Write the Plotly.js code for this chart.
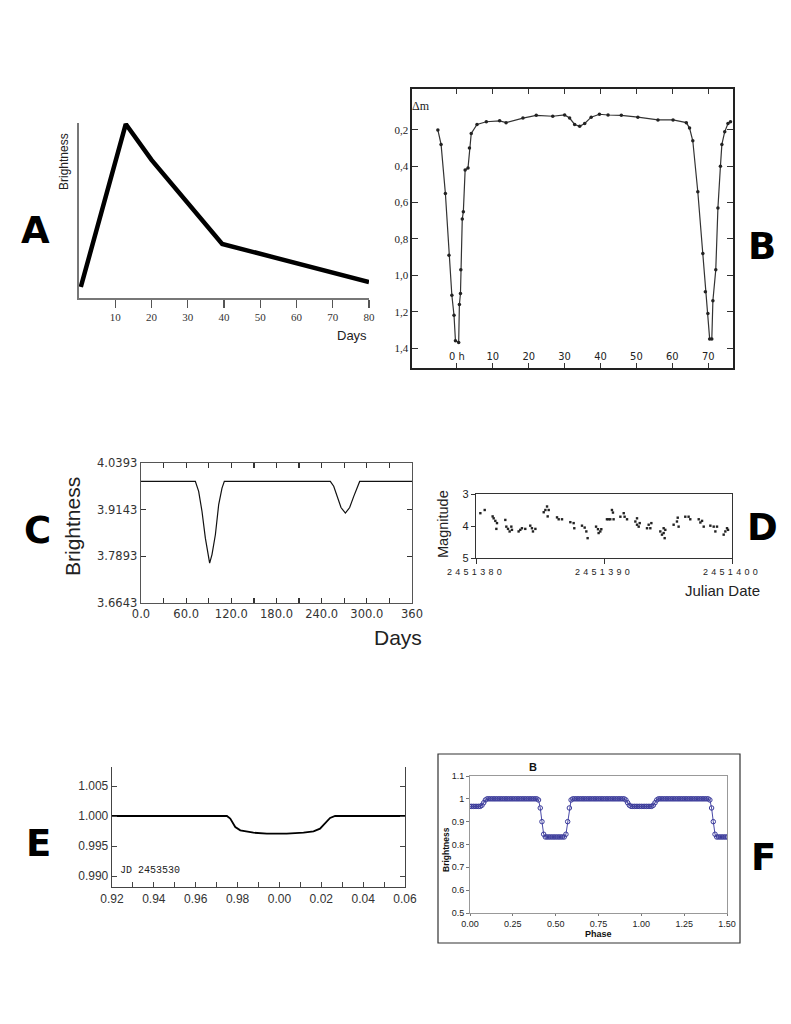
<!DOCTYPE html>
<html><head><meta charset="utf-8">
<script src="https://cdn.plot.ly/plotly-3.0.1.min.js"></script>
<style>html,body{margin:0;padding:0;background:#fff}</style>
</head><body><div id="chart" style="width:791px;height:1024px"></div>
<script>
// ---------- Panel A ----------
const daysA = [0.5, 12.9, 20, 39.5, 80];
const brightA = [0.63, 9.94, 7.89, 3.09, 0.91];
const ticksA = [10, 20, 30, 40, 50, 60, 70, 80];

// ---------- Panel B ----------
const hoursB = [-5.3,-4.4,-3.2,-2.2,-1.4,-0.8,-0.4,0.5,0.7,1.0,1.1,1.5,1.8,2.3,3.1,3.5,4.0,5.6,8.2,11.9,13.7,18.4,22.1,26.7,30.0,31.4,32.8,34.2,35.6,37.4,39.7,42.1,45.8,50.4,56.0,60.2,63.9,64.8,65.7,67.1,68.5,69.2,69.9,70.4,71.0,71.3,72.1,72.7,73.4,73.8,74.6,75.5,76.2];
const dmB = [0.2,0.28,0.55,0.89,1.11,1.22,1.36,1.37,1.16,1.10,0.97,0.69,0.65,0.42,0.41,0.30,0.22,0.17,0.155,0.15,0.16,0.135,0.12,0.125,0.118,0.135,0.17,0.18,0.165,0.13,0.114,0.118,0.12,0.13,0.145,0.145,0.16,0.19,0.26,0.54,0.88,1.09,1.21,1.35,1.35,1.14,0.97,0.63,0.40,0.28,0.21,0.165,0.155];
const ticksBx = [0, 10, 20, 30, 40, 50, 60, 70];
const labelsBx = ["0 h", "10", "20", "30", "40", "50", "60", "70"];
const ticksBy = [0.2, 0.4, 0.6, 0.8, 1.0, 1.2, 1.4];
const labelsBy = ["0,2", "0,4", "0,6", "0,8", "1,0", "1,2", "1,4"];

// ---------- Panel C ----------
const daysC = [0,72.2,76.6,81,85.5,88.6,91.2,94.3,98.8,103.2,105.4,107.6,110.7,251.5,256,260.4,265.7,271.5,277.2,282.6,287,290.5,360];
const brightC = [3.990,3.990,3.9635,3.910,3.838,3.794,3.771,3.794,3.847,3.928,3.950,3.972,3.990,3.990,3.977,3.950,3.920,3.905,3.920,3.950,3.974,3.990,3.990];
const ticksCx = [0,30,60,90,120,150,180,210,240,270,300,330,360];
const labelsCx = ["0.0","","60.0","","120.0","","180.0","","240.0","","300.0","","360"];
const ticksCy = [3.6643, 3.7893, 3.9143, 4.0393];
const labelsCy = ["3.6643", "3.7893", "3.9143", "4.0393"];

// ---------- Panel D ----------
const jdBaseD = 2451380;
const dayOffsetD = [0.34,0.68,1.30,1.38,1.51,1.64,1.59,2.29,2.37,2.50,2.63,2.76,2.81,3.33,3.46,3.59,3.85,4.24,4.37,4.45,4.64,5.29,5.42,5.55,5.68,5.60,6.33,6.46,6.72,7.37,7.63,7.68,8.28,8.49,8.62,8.72,9.38,9.53,9.58,9.71,9.79,10.23,10.36,10.49,10.62,10.70,10.75,11.28,11.54,11.61,11.80,12.45,12.58,12.58,12.71,12.79,13.36,13.49,13.62,13.70,14.40,14.53,14.66,14.66,14.74,14.79,15.44,15.70,15.76,15.83,16.35,16.61,16.74,17.40,17.53,17.66,17.79,18.31,18.57,18.70,18.83,19.35,19.48,19.61,19.69];
const magD = [3.60,3.50,3.70,3.76,3.84,3.91,4.09,3.81,4.02,4.09,4.17,4.02,4.12,4.17,4.12,4.07,4.09,3.99,4.07,4.17,4.09,3.57,3.50,3.39,3.50,3.70,3.73,3.79,3.79,3.88,3.91,4.07,3.99,4.05,4.17,4.38,4.02,4.10,4.22,4.17,4.10,3.79,3.79,3.79,3.50,3.58,3.79,3.71,3.60,3.71,3.79,3.86,3.76,3.96,4.02,3.91,4.07,3.96,4.07,3.91,4.17,4.27,4.22,4.07,4.38,4.12,3.96,3.86,3.74,4.02,3.71,3.71,3.79,3.79,3.89,3.84,4.02,3.99,4.02,4.17,4.02,4.27,4.17,4.07,4.12];
const ticksDx = [2451380, 2451390, 2451400];
const ticksDy = [3, 4, 5];

// ---------- Panel E ----------
const phaseE = [0.92,0.9749,0.9765,0.9789,0.9813,0.9876,0.994,1.0035,1.0115,1.0163,1.0194,1.0218,1.0242,1.0266,1.06];
const fluxE = [1.0,1.0,0.99956,0.99817,0.99761,0.99722,0.99706,0.99706,0.99722,0.99744,0.99789,0.99872,0.99967,1.0,1.0];
const ticksEx = [0.92,0.93,0.94,0.95,0.96,0.97,0.98,0.99,1.00,1.01,1.02,1.03,1.04,1.05,1.06];
const labelsEx = ["0.92","","0.94","","0.96","","0.98","","0.00","","0.02","","0.04","","0.06"];
const ticksEy = [0.990, 0.995, 1.000, 1.005];
const labelsEy = ["0.990", "0.995", "1.000", "1.005"];

// ---------- Panel F ----------
const phaseF = [0,0.01,0.02,0.03,0.04,0.05,0.06,0.07,0.08,0.09,0.10,0.11,0.12,0.13,0.14,0.15,0.16,0.17,0.18,0.19,0.20,0.21,0.22,0.23,0.24,0.25,0.26,0.27,0.28,0.29,0.30,0.31,0.32,0.33,0.34,0.35,0.36,0.37,0.38,0.39,0.40,0.41,0.42,0.43,0.44,0.45,0.46,0.47,0.48,0.49,0.50,0.51,0.52,0.53,0.54,0.55,0.56,0.57,0.58,0.59,0.60,0.61,0.62,0.63,0.64,0.65,0.66,0.67,0.68,0.69,0.70,0.71,0.72,0.73,0.74,0.75,0.76,0.77,0.78,0.79,0.80,0.81,0.82,0.83,0.84,0.85,0.86,0.87,0.88,0.89,0.90,0.91,0.92,0.93,0.94,0.95,0.96,0.97,0.98,0.99,1.00,1.01,1.02,1.03,1.04,1.05,1.06,1.07,1.08,1.09,1.10,1.11,1.12,1.13,1.14,1.15,1.16,1.17,1.18,1.19,1.20,1.21,1.22,1.23,1.24,1.25,1.26,1.27,1.28,1.29,1.30,1.31,1.32,1.33,1.34,1.35,1.36,1.37,1.38,1.39,1.40,1.41,1.42,1.43,1.44,1.45,1.46,1.47,1.48,1.49,1.50];
const brightF = [0.967,0.967,0.967,0.967,0.967,0.967,0.967,0.972,0.983,0.995,
1,1,1,1,1,1,1,1,1,1,1,1,1,1,1,1,1,1,1,1,1,1,1,1,1,1,1,1,1,1,
0.995,0.96,0.90,0.845,
0.833,0.833,0.833,0.833,0.833,0.833,0.833,0.833,0.833,0.833,0.833,0.833,
0.845,0.90,0.96,0.995,
1,1,1,1,1,1,1,1,1,1,1,1,1,1,1,1,1,1,1,1,1,1,1,1,1,1,1,1,1,1,1,
0.995,0.983,0.972,
0.967,0.967,0.967,0.967,0.967,0.967,0.967,0.967,0.967,0.967,0.967,0.967,0.967,
0.972,0.983,0.995,
1,1,1,1,1,1,1,1,1,1,1,1,1,1,1,1,1,1,1,1,1,1,1,1,1,1,1,1,1,1,
0.995,0.96,0.90,0.845,
0.833,0.833,0.833,0.833,0.833,0.833,0.833];
const ticksFx = [0, 0.25, 0.5, 0.75, 1.0, 1.25, 1.5];
const labelsFx = ["0.00","0.25","0.50","0.75","1.00","1.25","1.50"];
const ticksFy = [0.5,0.6,0.7,0.8,0.9,1.0,1.1];
const labelsFy = ["0.5","0.6","0.7","0.8","0.9","1","1.1"];

// ---------- layout helpers (pixel -> paper) ----------
const W = 791, H = 1024;
const dx = (l, r) => [l / W, r / W];
const dy = (t, b) => [1 - b / H, 1 - t / H];
const px = x => x / W, py = y => 1 - y / H;
function ann(text, x, y, size, opts) {
  return Object.assign({text, x: px(x), y: py(y), xref: 'paper', yref: 'paper', showarrow: false,
    xanchor: 'center', yanchor: 'middle', font: {size, color: '#222', family: 'Liberation Sans, Arial'}}, opts || {});
}
const bigLetter = (t, x, y) => ann(t, x, y, 37, {font: {size: 37, color: '#000', family: 'DejaVu Sans', weight: 'bold'}});

const traces = [
  {x: daysA, y: brightA, xaxis: 'x', yaxis: 'y', mode: 'lines', line: {color: '#000', width: 4.5}, hoverinfo: 'skip'},
  {x: hoursB, y: dmB, xaxis: 'x2', yaxis: 'y2', mode: 'lines+markers', line: {color: '#333', width: 1.2},
   marker: {color: '#222', size: 3.5}, hoverinfo: 'skip'},
  {x: daysC, y: brightC, xaxis: 'x3', yaxis: 'y3', mode: 'lines', line: {color: '#111', width: 1.2}, hoverinfo: 'skip'},
  {x: dayOffsetD.map(o => jdBaseD + o), y: magD, xaxis: 'x4', yaxis: 'y4', mode: 'markers',
   marker: {symbol: 'square', color: '#222', size: 2.4}, hoverinfo: 'skip'},
  {x: phaseE, y: fluxE, xaxis: 'x5', yaxis: 'y5', mode: 'lines', line: {color: '#000', width: 1.8}, hoverinfo: 'skip'},
  {x: phaseF, y: brightF, xaxis: 'x6', yaxis: 'y6', mode: 'lines+markers', line: {color: '#4a4aa8', width: 1},
   marker: {symbol: 'circle-open', color: '#3a3a9a', size: 4.5, line: {width: 1}}, hoverinfo: 'skip'}
];

const noGrid = {showgrid: false, zeroline: false, fixedrange: true};
const layout = {
  width: W, height: H, margin: {l: 0, r: 0, t: 0, b: 0}, paper_bgcolor: '#fff', plot_bgcolor: 'rgba(0,0,0,0)',
  showlegend: false,
  // A
  xaxis: Object.assign({}, noGrid, {domain: dx(79, 369), anchor: 'y', range: [0, 80], showline: true, linecolor: '#777', linewidth: 2,
    tickvals: ticksA, ticks: 'outside', ticklen: 8, tickcolor: '#555', tickwidth: 1.3,
    tickfont: {family: 'Liberation Serif, Times New Roman', size: 11, color: '#333'}}),
  xaxis7: Object.assign({}, noGrid, {overlaying: 'x', anchor: 'y', range: [0, 80], showline: false, tickvals: ticksA,
    ticks: 'inside', ticklen: 6, tickcolor: '#555', tickwidth: 1.3, showticklabels: false}),
  yaxis: Object.assign({}, noGrid, {domain: dy(123, 298), anchor: 'x', range: [0, 10], showline: true, linecolor: '#777', linewidth: 2,
    ticks: '', showticklabels: false}),
  // B
  xaxis2: Object.assign({}, noGrid, {domain: dx(412, 733), anchor: 'y2', range: [-12.5, 76.9], showline: true, mirror: 'allticks',
    linecolor: '#222', linewidth: 1.6, tickvals: ticksBx, ticktext: labelsBx, ticks: 'inside', ticklen: 5, tickcolor: '#333',
    ticklabelposition: 'inside', tickfont: {family: 'DejaVu Sans Condensed, DejaVu Sans', size: 11, color: '#222'}}),
  yaxis2: Object.assign({}, noGrid, {domain: dy(89, 368), anchor: 'x2', range: [1.51, -0.025], showline: true, mirror: 'allticks',
    linecolor: '#222', linewidth: 1.6, tickvals: ticksBy, ticktext: labelsBy, ticks: 'inside', ticklen: 6, tickcolor: '#333',
    tickfont: {family: 'Liberation Serif', size: 11, color: '#222'}}),
  // C
  xaxis3: Object.assign({}, noGrid, {domain: dx(141, 412), anchor: 'y3', range: [0, 360], showline: true, mirror: 'allticks',
    linecolor: '#555', linewidth: 1.4, tickvals: ticksCx, ticktext: labelsCx, ticks: 'inside', ticklen: 5, tickcolor: '#333', tickwidth: 1.2,
    tickfont: {family: 'DejaVu Sans', size: 11.5, color: '#333'}}),
  yaxis3: Object.assign({}, noGrid, {domain: dy(463, 603), anchor: 'x3', range: [3.6643, 4.0393], showline: true, mirror: 'allticks',
    linecolor: '#555', linewidth: 1.4, tickvals: ticksCy, ticktext: labelsCy, ticks: 'inside', ticklen: 5, tickcolor: '#333', tickwidth: 1.2,
    tickfont: {family: 'DejaVu Sans', size: 11.5, color: '#333'}}),
  // D
  xaxis4: Object.assign({}, noGrid, {domain: dx(476, 732), anchor: 'y4', range: [2451380, 2451400], showline: true, mirror: true,
    linecolor: '#333', linewidth: 1.2, tickvals: ticksDx, ticktext: ticksDx.map(String), ticks: 'outside', ticklen: 5, tickcolor: '#333',
    tickfont: {family: 'Liberation Sans, Arial', size: 9, color: '#222'}}),
  yaxis4: Object.assign({}, noGrid, {domain: dy(494, 558), anchor: 'x4', range: [5, 3], showline: true, mirror: true,
    linecolor: '#333', linewidth: 1.2, tickvals: ticksDy, ticks: 'outside', ticklen: 4, tickcolor: '#333',
    tickfont: {family: 'Liberation Sans, Arial', size: 11, color: '#222'}}),
  // E
  xaxis5: Object.assign({}, noGrid, {domain: dx(112, 405), anchor: 'y5', range: [0.92, 1.06], showline: true, mirror: false,
    linecolor: '#444', linewidth: 1.3, tickvals: ticksEx, ticktext: labelsEx, ticks: 'inside', ticklen: 5, tickcolor: '#444',
    tickfont: {family: 'Liberation Sans, Arial', size: 12, color: '#333'}}),
  yaxis5: Object.assign({}, noGrid, {domain: dy(767, 887), anchor: 'x5', range: [0.98817, 1.00817], showline: true, mirror: 'allticks',
    linecolor: '#444', linewidth: 1.3, tickvals: ticksEy, ticktext: labelsEy, ticks: 'inside', ticklen: 5, tickcolor: '#444',
    tickfont: {family: 'Liberation Sans, Arial', size: 12, color: '#333'}}),
  // F
  xaxis6: Object.assign({}, noGrid, {domain: dx(470, 727), anchor: 'y6', range: [0, 1.5], showline: true, mirror: true,
    linecolor: '#999', linewidth: 1, tickvals: ticksFx, ticktext: labelsFx, ticks: 'outside', ticklen: 2, tickcolor: '#777',
    ticklabelstandoff: 0, tickfont: {family: 'Liberation Sans, Arial', size: 9, color: '#222'}}),
  yaxis6: Object.assign({}, noGrid, {domain: dy(776, 913), anchor: 'x6', range: [0.5, 1.1], showline: true, mirror: true,
    linecolor: '#999', linewidth: 1, tickvals: ticksFy, ticktext: labelsFy, ticks: 'outside', ticklen: 3, tickcolor: '#777',
    tickfont: {family: 'Liberation Sans, Arial', size: 9, color: '#222'}}),
  shapes: [
    {type: 'rect', xref: 'paper', yref: 'paper', x0: px(438), x1: px(740), y0: py(943), y1: py(754), line: {color: '#333', width: 1.2}}
  ],
  annotations: [
    bigLetter('A', 35, 230), bigLetter('B', 762, 246), bigLetter('C', 37, 530),
    bigLetter('D', 762, 527), bigLetter('E', 38, 843), bigLetter('F', 763, 857),
    // A titles
    ann('Brightness', 64, 162, 12, {textangle: -90}),
    ann('Days', 352, 335, 13),
    // B
    ann('Δm', 421, 106, 12, {font: {family: 'Liberation Serif', size: 12, color: '#222'}}),
    // C
    ann('Brightness', 72, 527, 21, {textangle: -90}),
    ann('Days', 398, 637, 21),
    // D
    ann('Magnitude', 443, 524, 14.5, {textangle: -90}),
    ann('Julian Date', 722, 590, 15),
    // E
    ann('JD 2453530', 150, 870, 10, {font: {family: 'Liberation Mono, Courier New', size: 10, color: '#222'}}),
    // F
    ann('B', 533, 767, 11, {font: {family: 'Liberation Sans', size: 11, color: '#111', weight: 'bold'}}),
    ann('Brightness', 446, 850, 8.5, {textangle: -90, font: {family: 'Liberation Sans', size: 8.5, color: '#111', weight: 'bold'}}),
    ann('Phase', 598, 934, 9, {font: {family: 'Liberation Sans', size: 9, color: '#111', weight: 'bold'}})
  ]
};

Plotly.newPlot('chart', traces, layout, {staticPlot: true, displayModeBar: false}).then(gd => {
  document.querySelectorAll('.x4tick text').forEach(t => { t.style.letterSpacing = '3.3px'; });
});
</script>
</body></html>
